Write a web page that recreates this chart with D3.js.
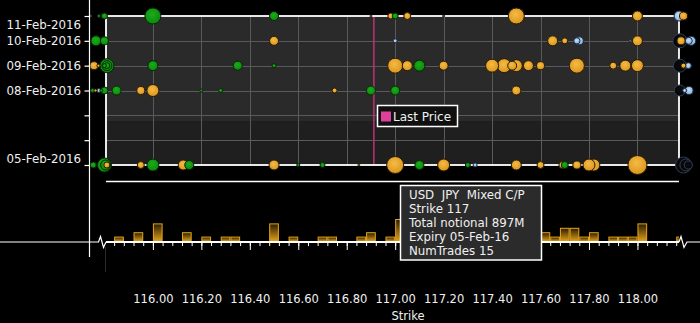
<!DOCTYPE html>
<html><head><meta charset="utf-8">
<script src="https://cdn.jsdelivr.net/npm/d3@7"></script>
<style>
body{margin:0;background:#000;}
svg{display:block;}
text{font-family:"DejaVu Sans",sans-serif;fill:#f0f0f0;}
</style>
</head><body>
<svg id="c" width="700" height="323"></svg>
<script>
// ---------- data ----------
const dateLabels = ["11-Feb-2016","10-Feb-2016","09-Feb-2016","08-Feb-2016","05-Feb-2016"];
const dateDays   = [11,10,9,8,5];
const axisDays   = [5,6,7,8,9,10,11];
const strikeTicks = [116.0,116.2,116.4,116.6,116.8,117.0,117.2,117.4,117.6,117.8,118.0];
const strikeTickLabels = ["116.00","116.20","116.40","116.60","116.80","117.00","117.20","117.40","117.60","117.80","118.00"];
const lastPrice = 116.912;
const shadeSplitDay = 6.77;

// [strike, notional (M), kind]  G=green O=orange B=blue D=dark
const feb11 = [
  [115.744,12,"O"],[115.777,28,"G"],[115.80,111,"G"],[116.00,790,"G"],[116.50,250,"G"],
  [116.90,12,"O"],[116.982,111,"O"],[117.00,111,"G"],[117.05,151,"O"],[117.20,12,"G"],
  [117.50,790,"O"],[118.00,309,"O"],[118.172,309,"B"],[118.19,198,"O"]
];
const feb10 = [
  [115.765,309,"G"],[115.80,198,"G"],[116.50,250,"O"],[117.00,49,"B"],[117.65,309,"O"],
  [117.70,111,"O"],[117.76,198,"B"],[117.75,122,"B"],[117.97,12,"B"],[118.00,309,"O"],
  [118.175,605,"D"],[118.18,198,"O"],[118.222,250,"B"],[118.212,150,"B"]
];
const feb09 = [
  [115.757,198,"O"],[115.81,605,"G"],[115.81,309,"G"],[115.81,111,"G"],[115.775,28,"O"],
  [115.80,49,"G"],[116.00,309,"G"],[116.35,250,"G"],[116.50,49,"G"],[117.00,694,"O"],
  [117.05,309,"O"],[117.10,373,"G"],[117.20,250,"O"],[117.40,522,"O"],[117.45,605,"O"],
  [117.50,444,"O"],[117.483,250,"O"],[117.55,309,"O"],[117.60,198,"O"],[117.75,694,"O"],
  [117.90,151,"O"],[117.95,373,"O"],[118.00,444,"O"],
  [118.175,522,"D"],[118.19,77,"O"],[118.21,111,"B"]
];
const feb08 = [
  [115.751,49,"G"],[115.763,28,"O"],[115.777,49,"B"],[115.787,28,"G"],[115.80,151,"G"],
  [115.85,250,"G"],[115.95,198,"O"],[116.00,444,"O"],[116.20,28,"G"],[116.28,49,"G"],
  [116.75,77,"O"],[116.90,250,"G"],[117.00,250,"G"],[117.50,250,"O"],
  [118.175,373,"D"],[118.195,49,"B"],[118.213,198,"B"]
];
const feb05 = [
  [115.754,111,"G"],[115.80,605,"G"],[115.805,309,"G"],[115.81,111,"O"],[115.95,151,"O"],
  [116.00,444,"G"],[116.125,309,"O"],[116.15,250,"G"],[116.50,309,"O"],[116.60,28,"G"],
  [116.70,77,"G"],[116.85,12,"O"],[117.00,897,"O"],[117.10,250,"G"],[117.20,444,"O"],
  [117.30,77,"G"],[117.33,49,"B"],[117.50,309,"O"],[117.60,151,"O"],[117.69,151,"O"],
  [117.70,151,"G"],[117.75,198,"O"],[117.82,444,"O"],[117.80,444,"O"],[118.00,1114,"O"],
  [118.19,790,"D"],[118.20,444,"D"],[118.21,198,"D"]
];
const bubbleRows = [feb11, feb10, feb09, feb08, feb05];

const barStrikes = [115.84,115.92,116.00,116.12,116.20,116.28,116.32,116.48,116.56,116.68,116.72,
  116.84,116.88,116.96,117.00,117.04,117.08,117.20,117.40,117.44,117.48,
  117.60,117.64,117.68,117.72,117.76,117.80,117.88,117.92,117.96,118.00,118.16];
const barCounts  = [1,2,4,2,1,1,1,4,1,1,1,
  1,2,1,5,2,1,2,2,3,2,
  2,1,3,3,1,2,1,1,1,4,1];
const barBin = 0.04;

const tooltipLines = ["USD  JPY  Mixed C/P","Strike 117","Total notional 897M","Expiry 05-Feb-16","NumTrades 15"];

// ---------- scales ----------
const svg = d3.select("#c");
const x = d3.scaleLinear().domain([115.8064, 118.1715]).range([106, 679]);
const y = d3.scaleLinear().domain([5, 11]).range([165, 16]);
const r = d3.scaleSqrt().domain([0, 1000]).range([0, 9]);
const h = d3.scaleLinear().domain([0, 5]).range([0, 22]);
const baseY = 242;

// ---------- gradients ----------
const defs = svg.append("defs");
function radial(id, c0, c1){
  const g = defs.append("radialGradient").attr("id", id).attr("cx","45%").attr("cy","40%").attr("r","60%");
  g.append("stop").attr("offset","0%").attr("stop-color", c0);
  g.append("stop").attr("offset","100%").attr("stop-color", c1);
}
radial("gO", "#f6bb45", "#d9961e");
radial("gG", "#1cac1c", "#0b8a0b");
radial("gB", "#c6e0fa", "#86afdc");
radial("gD", "#0c0c0c", "#050505");
const bg = defs.append("linearGradient").attr("id","barG").attr("x1",0).attr("y1",0).attr("x2",0).attr("y2",1);
bg.append("stop").attr("offset","0%").attr("stop-color","#2a1e00");
bg.append("stop").attr("offset","100%").attr("stop-color","#e3a21c");
defs.append("clipPath").attr("id","barClip").append("rect").attr("x",107).attr("y",150).attr("width",572).attr("height",100);

const fills = {O:"url(#gO)", G:"url(#gG)", B:"url(#gB)", D:"url(#gD)"};
const strokes = {O:"#2a1a00", G:"#052805", B:"#1c2c40", D:"#2e3e58"};

// ---------- plot background ----------
svg.append("rect").attr("x", x.range()[0]).attr("y", y(11))
  .attr("width", x.range()[1]-x.range()[0]).attr("height", y(shadeSplitDay)-y(11)).attr("fill","#2a2a2a");
svg.append("rect").attr("x", x.range()[0]).attr("y", y(shadeSplitDay))
  .attr("width", x.range()[1]-x.range()[0]).attr("height", y(5)-y(shadeSplitDay)).attr("fill","#1f1f1f");

// grid
svg.append("g").selectAll("line").data(strikeTicks).join("line")
  .attr("x1", d=>Math.round(x(d))+0.5).attr("x2", d=>Math.round(x(d))+0.5)
  .attr("y1", y(11)).attr("y2", y(5)).attr("stroke","#5a5a5a").attr("stroke-width",1);
svg.append("g").selectAll("line").data([6,7,8,9,10]).join("line")
  .attr("x1", x.range()[0]).attr("x2", x.range()[1])
  .attr("y1", d=>Math.round(y(d))+0.5).attr("y2", d=>Math.round(y(d))+0.5)
  .attr("stroke","#5a5a5a").attr("stroke-width",1);

// last price
svg.append("line").attr("x1", x(lastPrice)).attr("x2", x(lastPrice))
  .attr("y1", y(11)).attr("y2", y(5)).attr("stroke","#b8306e").attr("stroke-width",1.6);

// border
svg.append("rect").attr("x", x.range()[0]).attr("y", y(11))
  .attr("width", x.range()[1]-x.range()[0]).attr("height", y(5)-y(11))
  .attr("fill","none").attr("stroke","#fff").attr("stroke-width",1.8);

// bubbles
const bubbles = [];
bubbleRows.forEach((row, i) => row.forEach(([s, n, k]) => bubbles.push({day: dateDays[i], s, n, k})));
bubbles.sort((a,b) => b.n - a.n);
svg.append("g").selectAll("circle").data(bubbles).join("circle")
  .attr("cx", d=>x(d.s)).attr("cy", d=>y(d.day)).attr("r", d=>r(d.n))
  .attr("fill", d=>fills[d.k]).attr("stroke", d=>strokes[d.k]).attr("stroke-width",1);

// legend
const lg = svg.append("g");
lg.append("rect").attr("x",377.5).attr("y",105.5).attr("width",80).attr("height",21)
  .attr("fill","#101010").attr("stroke","#fff").attr("stroke-width",1.5);
lg.append("rect").attr("x",381).attr("y",111.5).attr("width",10).attr("height",10).attr("fill","#e0409a");
lg.append("text").attr("x",393).attr("y",116.5).attr("dominant-baseline","central")
  .style("font-size","12px").text("Last Price");

// separator line
svg.append("line").attr("x1",106).attr("x2",679).attr("y1",181.5).attr("y2",181.5)
  .attr("stroke","#fff").attr("stroke-width",1.5);

// left axis
svg.append("line").attr("x1",89.5).attr("x2",89.5).attr("y1",0).attr("y2",257).attr("stroke","#fff").attr("stroke-width",1.2);
const la = svg.append("g").attr("transform","translate(89.5,0)")
  .call(d3.axisLeft(y).tickValues(axisDays).tickSize(5).tickFormat(""));
la.select(".domain").remove();
la.selectAll("line").attr("stroke","#fff").attr("stroke-width",1.2);
svg.append("g").selectAll("text").data(dateDays).join("text")
  .attr("x", 81).attr("y", d=>Math.min(Math.max(y(d), 25), 159))
  .attr("text-anchor","end").attr("dominant-baseline","central")
  .style("font-size","11.8px").text((d,i)=>dateLabels[i]);

// bottom axis
svg.append("path")
  .attr("d", `M0,${baseY} H98.5 L100.5,236.5 L103.5,247.5 L106,${baseY}`)
  .attr("fill","none").attr("stroke","#fff").attr("stroke-width",1.2);
svg.append("path")
  .attr("d", `M679,${baseY} L681,236.5 L684,247.5 L687,${baseY} H700`)
  .attr("fill","none").attr("stroke","#fff").attr("stroke-width",1.2);
svg.append("line").attr("x1",105.5).attr("x2",105.5).attr("y1",247).attr("y2",272).attr("stroke","#2a2a2a");

// bars
svg.append("g").attr("clip-path","url(#barClip)").selectAll("rect").data(barStrikes).join("rect")
  .attr("x", d=>x(d)+0.5).attr("width", d=>x(d+barBin)-x(d)-1)
  .attr("y", (d,i)=>baseY-1-h(barCounts[i])+0.5).attr("height", (d,i)=>h(barCounts[i]))
  .attr("fill","url(#barG)").attr("stroke","#e8a418").attr("stroke-width",1);

svg.append("line").attr("x1",106).attr("x2",679).attr("y1",baseY).attr("y2",baseY)
  .attr("stroke","#fff").attr("stroke-width",2);

const minorTicks = d3.range(0, 59).map(i => +(115.84 + i*0.04).toFixed(2));
const ma = svg.append("g").attr("transform",`translate(0,${baseY})`)
  .call(d3.axisBottom(x).tickValues(minorTicks).tickSize(4).tickFormat(""));
ma.select(".domain").remove();
ma.selectAll("line").attr("stroke","#fff");
const Ma = svg.append("g").attr("transform",`translate(0,${baseY})`)
  .call(d3.axisBottom(x).tickValues(strikeTicks).tickSize(8).tickPadding(45)
    .tickFormat((d,i)=>strikeTickLabels[i]));
Ma.select(".domain").remove();
Ma.selectAll("line").attr("stroke","#fff");
Ma.selectAll("text").style("font-size","11.5px").attr("fill","#f0f0f0");

svg.append("text").attr("x",408).attr("y",315.5).attr("text-anchor","middle").attr("dominant-baseline","central")
  .style("font-size","11.5px").text("Strike");

// tooltip
const tt = svg.append("g");
tt.append("rect").attr("x",400.5).attr("y",185.5).attr("width",141).attr("height",74.5)
  .attr("fill","#2b2b2b").attr("stroke","#fff").attr("stroke-width",1.5);
tt.selectAll("text").data(tooltipLines).join("text")
  .attr("x",409).attr("y",(d,i)=>195+i*13.9).attr("dominant-baseline","central")
  .style("font-size","11.8px").style("white-space","pre").attr("xml:space","preserve").text(d=>d);
</script>
</body></html>
